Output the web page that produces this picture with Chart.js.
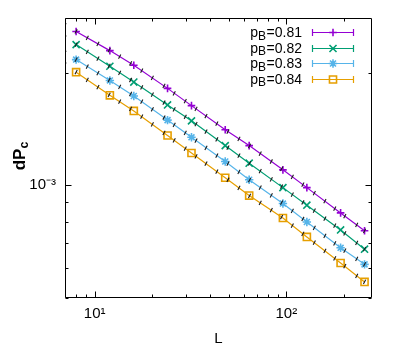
<!DOCTYPE html>
<html><head><meta charset="utf-8">
<script src="https://cdn.jsdelivr.net/npm/chart.js@4.4.0/dist/chart.umd.min.js"></script>
<style>html,body{margin:0;padding:0;background:#fff;}#wrap{width:400px;height:350px;}</style>
</head><body>
<div id="wrap"><canvas id="c" width="400" height="350"></canvas></div>
<script>
// ---- data ----
const L_values = [8, 12, 16, 24, 32, 48, 64, 96, 128, 192, 256];
const pB_labels = ['0.81', '0.82', '0.83', '0.84'];
const dPc_081 = [2.577e-3, 2.291e-3, 2.094e-3, 1.816e-3, 1.633e-3, 1.408e-3, 1.277e-3, 1.100e-3, 0.986e-3, 0.844e-3, 0.756e-3];
const dPc_082 = [2.377e-3, 2.081e-3, 1.888e-3, 1.640e-3, 1.487e-3, 1.277e-3, 1.146e-3, 0.986e-3, 0.885e-3, 0.760e-3, 0.675e-3];
const dPc_083 = [2.168e-3, 1.907e-3, 1.733e-3, 1.494e-3, 1.344e-3, 1.158e-3, 1.035e-3, 0.894e-3, 0.798e-3, 0.681e-3, 0.615e-3];
const dPc_084 = [2.006e-3, 1.740e-3, 1.581e-3, 1.359e-3, 1.220e-3, 1.048e-3, 0.939e-3, 0.818e-3, 0.728e-3, 0.620e-3, 0.552e-3];
// small black marks along each curve
const L_fine = [7, 8, 9.15, 10.4, 11.9, 13.5, 15.4, 17.6, 20, 23, 26, 29.7, 33.8, 38.1, 43.4, 49.6, 56.6, 64.3, 73.1, 83.5, 94.5, 107.5, 122, 140, 159, 179, 202, 233, 256];
const fine_081 = [2.678e-3, 2.577e-3, 2.478e-3, 2.388e-3, 2.297e-3, 2.208e-3, 2.119e-3, 2.025e-3, 1.936e-3, 1.843e-3, 1.762e-3, 1.678e-3, 1.600e-3, 1.532e-3, 1.461e-3, 1.392e-3, 1.331e-3, 1.275e-3, 1.216e-3, 1.158e-3, 1.106e-3, 1.054e-3, 1.004e-3, 0.953e-3, 0.907e-3, 0.867e-3, 0.828e-3, 0.784e-3, 0.756e-3];
const fine_082 = [2.483e-3, 2.377e-3, 2.274e-3, 2.181e-3, 2.087e-3, 1.999e-3, 1.912e-3, 1.826e-3, 1.747e-3, 1.664e-3, 1.595e-3, 1.525e-3, 1.457e-3, 1.392e-3, 1.326e-3, 1.261e-3, 1.200e-3, 1.144e-3, 1.091e-3, 1.038e-3, 0.992e-3, 0.945e-3, 0.901e-3, 0.856e-3, 0.815e-3, 0.780e-3, 0.744e-3, 0.702e-3, 0.675e-3];
const fine_083 = [2.260e-3, 2.168e-3, 2.077e-3, 1.995e-3, 1.912e-3, 1.834e-3, 1.755e-3, 1.673e-3, 1.597e-3, 1.518e-3, 1.451e-3, 1.381e-3, 1.317e-3, 1.260e-3, 1.201e-3, 1.143e-3, 1.086e-3, 1.033e-3, 0.986e-3, 0.940e-3, 0.899e-3, 0.855e-3, 0.813e-3, 0.770e-3, 0.733e-3, 0.700e-3, 0.669e-3, 0.636e-3, 0.615e-3];
const fine_084 = [2.102e-3, 2.006e-3, 1.913e-3, 1.829e-3, 1.745e-3, 1.673e-3, 1.601e-3, 1.526e-3, 1.455e-3, 1.381e-3, 1.318e-3, 1.254e-3, 1.195e-3, 1.143e-3, 1.088e-3, 1.035e-3, 0.984e-3, 0.937e-3, 0.898e-3, 0.858e-3, 0.823e-3, 0.781e-3, 0.742e-3, 0.703e-3, 0.668e-3, 0.638e-3, 0.608e-3, 0.573e-3, 0.552e-3];
const xTickValues = [10, 100];
const xTickLabels = ['10\u00b9', '10\u00b2'];
const xMinorTicks = [7, 8, 9, 20, 30, 40, 50, 60, 70, 80, 90, 200];
const yTickValues = [1e-3];
const yTickLabels = ['10\u207b\u00b3'];
const yMinorTicks = [5e-4, 6e-4, 7e-4, 8e-4, 9e-4, 2e-3];
const xRange = [7, 280];
const yRange = [5e-4, 2.8e-3];

// ---- styles ----
const colors = ['#9400d3', '#009e73', '#56b4e9', '#e69f00'];
const styles = [
  {pointStyle: 'cross', radius: 3.8},
  {pointStyle: 'crossRot', radius: 5},
  {pointStyle: 'star', radius: 4.2},
  {pointStyle: 'rect', radius: 5}
];
const FONT = '"Liberation Sans", Arial, Helvetica, sans-serif';
const seriesValues = [dPc_081, dPc_082, dPc_083, dPc_084];
const fineValues = [fine_081, fine_082, fine_083, fine_084];

const datasets = [];
seriesValues.forEach((vals, i) => {
  datasets.push({
    label: 'pB=' + pB_labels[i],
    data: L_values.map((L, j) => ({x: L, y: vals[j]})),
    borderColor: colors[i],
    backgroundColor: 'rgba(0,0,0,0)',
    borderWidth: 1.2,
    pointStyle: styles[i].pointStyle,
    pointRadius: styles[i].radius,
    pointBorderWidth: 1.6,
    pointBorderColor: colors[i],
    pointBackgroundColor: 'rgba(0,0,0,0)',
    tension: 0,
    order: 2
  });
});
fineValues.forEach((vals, i) => {
  datasets.push({
    label: 'marks ' + pB_labels[i],
    data: L_fine.map((L, j) => ({x: L, y: vals[j]})),
    showLine: false,
    pointStyle: 'line',
    pointRotation: -62,
    pointRadius: 2.4,
    pointBorderWidth: 1.1,
    pointBorderColor: '#1a1a1a',
    pointBackgroundColor: '#1a1a1a',
    order: 1
  });
});

function drawMarker(ctx, style, r, x, y) {
  ctx.beginPath();
  if (style === 'cross') {
    ctx.moveTo(x - r, y); ctx.lineTo(x + r, y);
    ctx.moveTo(x, y - r); ctx.lineTo(x, y + r);
  } else if (style === 'crossRot') {
    const d = r * Math.SQRT1_2;
    ctx.moveTo(x - d, y - d); ctx.lineTo(x + d, y + d);
    ctx.moveTo(x - d, y + d); ctx.lineTo(x + d, y - d);
  } else if (style === 'star') {
    const d = r * Math.SQRT1_2;
    ctx.moveTo(x - r, y); ctx.lineTo(x + r, y);
    ctx.moveTo(x, y - r); ctx.lineTo(x, y + r);
    ctx.moveTo(x - d, y - d); ctx.lineTo(x + d, y + d);
    ctx.moveTo(x - d, y + d); ctx.lineTo(x + d, y - d);
  } else if (style === 'rect') {
    const s = r * Math.SQRT1_2;
    ctx.rect(x - s, y - s, 2 * s, 2 * s);
  }
  ctx.stroke();
}

const framePlugin = {
  id: 'frame',
  afterDatasetsDraw(chart) {
    const {ctx, chartArea: a, scales: {x, y}} = chart;
    ctx.save();
    ctx.strokeStyle = '#000';
    ctx.lineWidth = 1;
    const Lx = Math.round(a.left) + 0.5, Rx = Math.round(a.right) - 0.5;
    const Ty = Math.round(a.top) + 0.5, By = Math.round(a.bottom) - 0.5;
    ctx.beginPath();
    ctx.rect(Lx, Ty, Rx - Lx, By - Ty);
    const xt = (v, len) => {
      const p = Math.round(x.getPixelForValue(v)) + 0.5;
      ctx.moveTo(p, By); ctx.lineTo(p, By - len);
      ctx.moveTo(p, Ty); ctx.lineTo(p, Ty + len);
    };
    const yt = (v, len) => {
      const p = Math.round(y.getPixelForValue(v)) + 0.5;
      ctx.moveTo(Lx, p); ctx.lineTo(Lx + len, p);
      ctx.moveTo(Rx, p); ctx.lineTo(Rx - len, p);
    };
    xTickValues.forEach(v => xt(v, 6));
    xMinorTicks.forEach(v => xt(v, 3));
    yTickValues.forEach(v => yt(v, 6));
    yMinorTicks.forEach(v => yt(v, 3));
    ctx.stroke();

    // legend
    const textRight = a.right - 70;
    pB_labels.forEach((lab, i) => {
      const ry = a.top + 14 + i * 15.6;
      ctx.fillStyle = '#000';
      ctx.textBaseline = 'alphabetic';
      ctx.textAlign = 'left';
      ctx.font = '14px ' + FONT;
      const wP = ctx.measureText('p').width;
      const wR = ctx.measureText('=' + lab).width;
      ctx.font = '12px ' + FONT;
      const wB = ctx.measureText('B').width + 0.5;
      let tx = textRight - (wP + wB + wR);
      const base = ry + 5;
      ctx.font = '14px ' + FONT;
      ctx.fillText('p', tx, base);
      ctx.font = '12px ' + FONT;
      ctx.fillText('B', tx + wP, base + 2.5);
      ctx.font = '14px ' + FONT;
      ctx.fillText('=' + lab, tx + wP + wB, base);
      // sample
      const x1 = a.right - 60, x2 = a.right - 18, yy = Math.round(ry) + 0.5;
      ctx.strokeStyle = colors[i];
      ctx.lineWidth = 1.2;
      ctx.beginPath();
      ctx.moveTo(x1, yy); ctx.lineTo(x2, yy);
      ctx.moveTo(x1 + 0.5, yy - 3.5); ctx.lineTo(x1 + 0.5, yy + 3.5);
      ctx.moveTo(x2 - 0.5, yy - 3.5); ctx.lineTo(x2 - 0.5, yy + 3.5);
      ctx.stroke();
      ctx.lineWidth = 1.6;
      drawMarker(ctx, styles[i].pointStyle, styles[i].radius, (x1 + x2) / 2, yy);
    });

    // y axis title dP_c
    ctx.save();
    ctx.translate(25, (a.top + a.bottom) / 2 - 2);
    ctx.rotate(-Math.PI / 2);
    ctx.fillStyle = '#000';
    ctx.font = 'bold 17px ' + FONT;
    const wdP = ctx.measureText('dP').width;
    ctx.font = 'bold 12.5px ' + FONT;
    const wc = ctx.measureText('c').width;
    const x0 = -(wdP + wc) / 2;
    ctx.font = 'bold 17px ' + FONT;
    ctx.fillText('dP', x0, 0);
    ctx.font = 'bold 12.5px ' + FONT;
    ctx.fillText('c', x0 + wdP, 3);
    ctx.restore();
    ctx.restore();
  }
};

new Chart(document.getElementById('c'), {
  type: 'line',
  data: {datasets},
  plugins: [framePlugin],
  options: {
    responsive: false,
    animation: false,
    devicePixelRatio: 1,
    layout: {padding: {top: 17, right: 28, left: 0, bottom: 0}},
    plugins: {legend: {display: false}, tooltip: {enabled: false}},
    scales: {
      x: {
        type: 'logarithmic',
        min: xRange[0], max: xRange[1],
        grid: {display: false, drawTicks: false},
        border: {display: false},
        afterBuildTicks: s => { s.ticks = xTickValues.map(v => ({value: v})); },
        afterFit: s => { s.height = 52; },
        ticks: {
          autoSkip: false, maxRotation: 0, padding: 7,
          color: '#000', font: {family: FONT, size: 15},
          callback: v => { const i = xTickValues.indexOf(v); return i >= 0 ? xTickLabels[i] : ''; }
        },
        title: {display: true, text: 'L', color: '#000', font: {family: FONT, size: 15}, padding: {top: 0, bottom: 2}}
      },
      y: {
        type: 'logarithmic',
        min: yRange[0], max: yRange[1],
        grid: {display: false, drawTicks: false},
        border: {display: false},
        afterBuildTicks: s => { s.ticks = yTickValues.map(v => ({value: v})); },
        afterFit: s => { s.width = 65; },
        ticks: {
          autoSkip: false, padding: 9,
          color: '#000', font: {family: FONT, size: 15},
          callback: v => { const i = yTickValues.indexOf(v); return i >= 0 ? yTickLabels[i] : ''; }
        }
      }
    }
  }
});
</script>
</body></html>
